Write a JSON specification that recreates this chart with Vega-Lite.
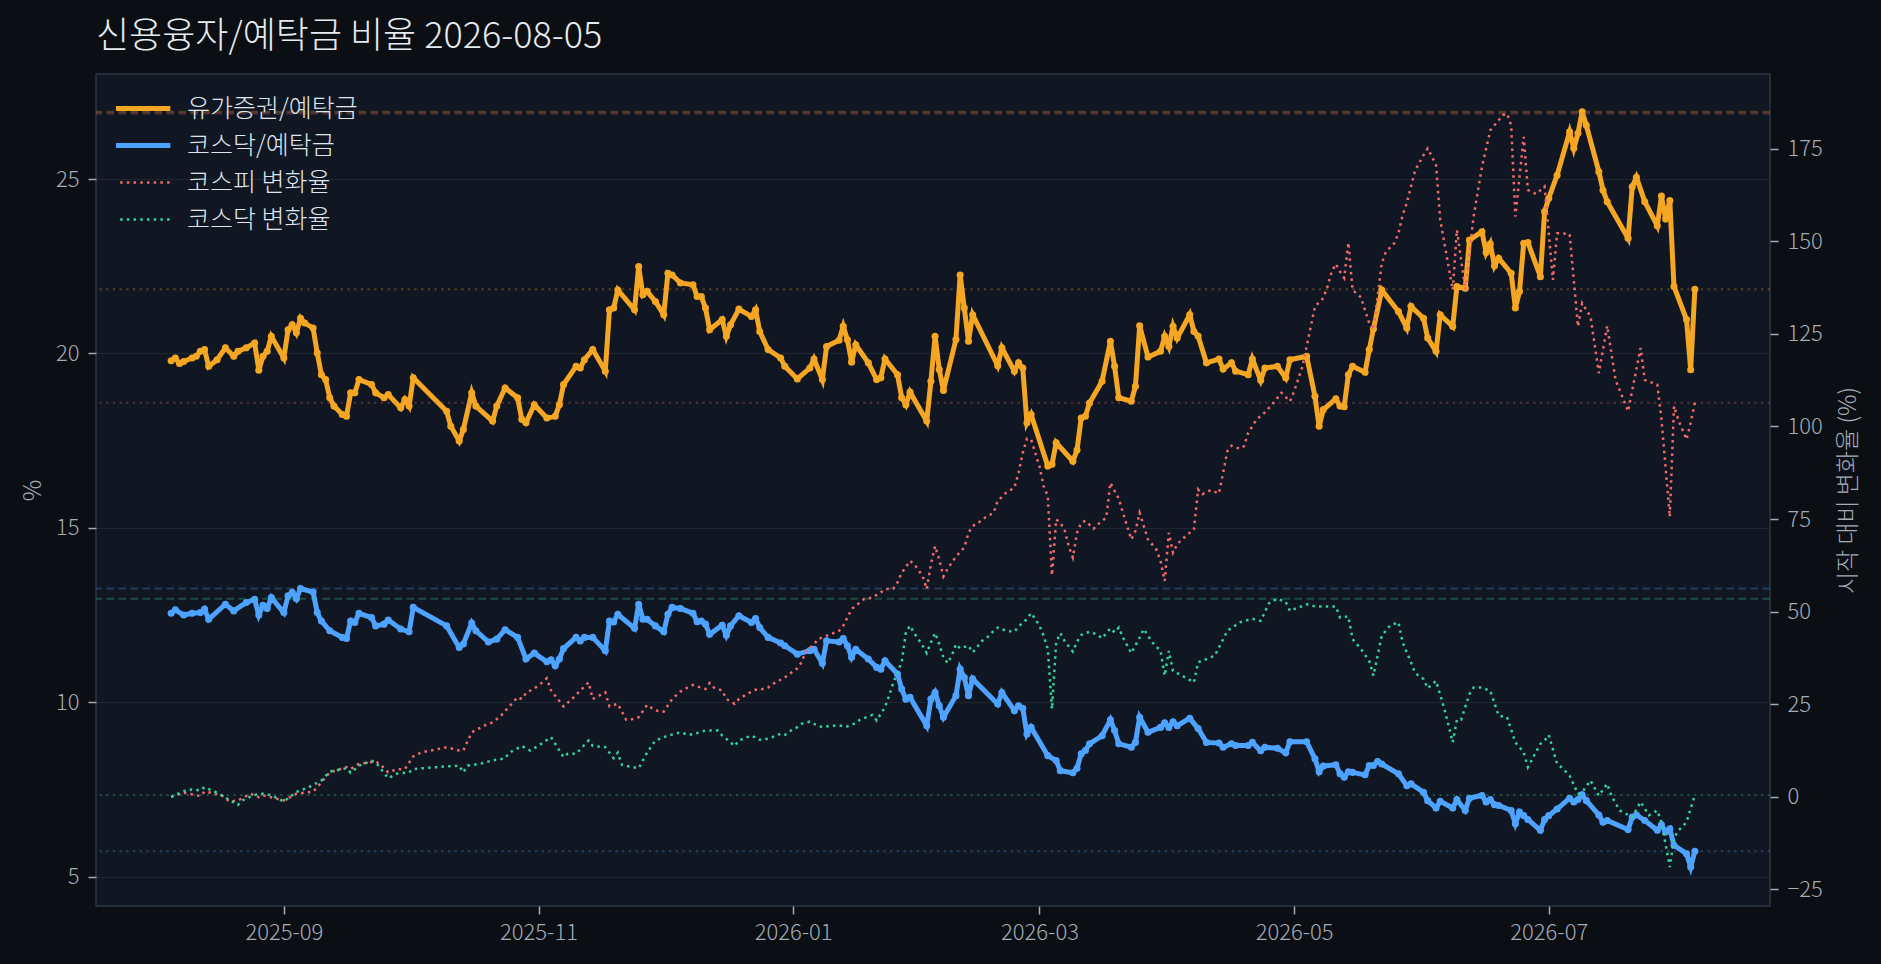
{
  "$schema": "https://vega.github.io/schema/vega-lite/v6.json",
  "description": "신용융자/예탁금 비율과 시작 대비 지수 변화율",
  "width": 1674,
  "height": 832,
  "autosize": {"type": "none"},
  "padding": {"left": 96, "top": 74, "right": 111, "bottom": 58},
  "background": "#0b0e13",
  "title": {
    "text": "신용융자/예탁금 비율 2026-08-05",
    "anchor": "start",
    "frame": "group",
    "fontSize": 36,
    "fontWeight": 300,
    "font": "Noto Sans CJK KR",
    "color": "#e6ebf0",
    "offset": 18
  },
  "config": {
    "font": "Noto Sans CJK KR",
    "view": {"fill": "#111722", "stroke": "#2b3646", "strokeWidth": 1.5},
    "axis": {
      "domain": false,
      "grid": false,
      "labelColor": "#a3acb8",
      "tickColor": "#a3acb8",
      "titleColor": "#a3acb8",
      "labelFontSize": 22,
      "labelFontWeight": 300,
      "titleFontSize": 24,
      "titleFontWeight": 300,
      "tickSize": 8,
      "tickWidth": 1.5,
      "labelPadding": 8
    },
    "legend": {"labelFontWeight": 300}
  },
  "data": {
    "values": [
      {"date": "2025-08-05", "series": "유가증권/예탁금", "value": 19.79},
      {"date": "2025-08-06", "series": "유가증권/예탁금", "value": 19.87},
      {"date": "2025-08-07", "series": "유가증권/예탁금", "value": 19.71},
      {"date": "2025-08-08", "series": "유가증권/예탁금", "value": 19.77},
      {"date": "2025-08-10", "series": "유가증권/예탁금", "value": 19.87},
      {"date": "2025-08-11", "series": "유가증권/예탁금", "value": 19.92},
      {"date": "2025-08-12", "series": "유가증권/예탁금", "value": 20.06},
      {"date": "2025-08-13", "series": "유가증권/예탁금", "value": 20.11},
      {"date": "2025-08-14", "series": "유가증권/예탁금", "value": 19.63},
      {"date": "2025-08-16", "series": "유가증권/예탁금", "value": 19.82},
      {"date": "2025-08-18", "series": "유가증권/예탁금", "value": 20.16},
      {"date": "2025-08-20", "series": "유가증권/예탁금", "value": 19.92},
      {"date": "2025-08-21", "series": "유가증권/예탁금", "value": 20.06},
      {"date": "2025-08-23", "series": "유가증권/예탁금", "value": 20.16},
      {"date": "2025-08-25", "series": "유가증권/예탁금", "value": 20.30},
      {"date": "2025-08-26", "series": "유가증권/예탁금", "value": 19.52},
      {"date": "2025-08-27", "series": "유가증권/예탁금", "value": 19.92},
      {"date": "2025-08-28", "series": "유가증권/예탁금", "value": 20.06},
      {"date": "2025-08-29", "series": "유가증권/예탁금", "value": 20.49},
      {"date": "2025-09-01", "series": "유가증권/예탁금", "value": 19.87},
      {"date": "2025-09-02", "series": "유가증권/예탁금", "value": 20.68},
      {"date": "2025-09-03", "series": "유가증권/예탁금", "value": 20.82},
      {"date": "2025-09-04", "series": "유가증권/예탁금", "value": 20.59},
      {"date": "2025-09-05", "series": "유가증권/예탁금", "value": 21.01},
      {"date": "2025-09-06", "series": "유가증권/예탁금", "value": 20.87},
      {"date": "2025-09-08", "series": "유가증권/예탁금", "value": 20.73},
      {"date": "2025-09-09", "series": "유가증권/예탁금", "value": 20.01},
      {"date": "2025-09-10", "series": "유가증권/예탁금", "value": 19.39},
      {"date": "2025-09-11", "series": "유가증권/예탁금", "value": 19.25},
      {"date": "2025-09-12", "series": "유가증권/예탁금", "value": 18.73},
      {"date": "2025-09-13", "series": "유가증권/예탁금", "value": 18.49},
      {"date": "2025-09-15", "series": "유가증권/예탁금", "value": 18.25},
      {"date": "2025-09-16", "series": "유가증권/예탁금", "value": 18.20},
      {"date": "2025-09-17", "series": "유가증권/예탁금", "value": 18.87},
      {"date": "2025-09-18", "series": "유가증권/예탁금", "value": 18.87},
      {"date": "2025-09-19", "series": "유가증권/예탁금", "value": 19.25},
      {"date": "2025-09-22", "series": "유가증권/예탁금", "value": 19.11},
      {"date": "2025-09-23", "series": "유가증권/예탁금", "value": 18.87},
      {"date": "2025-09-25", "series": "유가증권/예탁금", "value": 18.73},
      {"date": "2025-09-26", "series": "유가증권/예탁금", "value": 18.82},
      {"date": "2025-09-29", "series": "유가증권/예탁금", "value": 18.44},
      {"date": "2025-09-30", "series": "유가증권/예탁금", "value": 18.68},
      {"date": "2025-10-01", "series": "유가증권/예탁금", "value": 18.49},
      {"date": "2025-10-02", "series": "유가증권/예탁금", "value": 19.30},
      {"date": "2025-10-10", "series": "유가증권/예탁금", "value": 18.34},
      {"date": "2025-10-11", "series": "유가증권/예탁금", "value": 17.91},
      {"date": "2025-10-13", "series": "유가증권/예탁금", "value": 17.49},
      {"date": "2025-10-14", "series": "유가증권/예탁금", "value": 17.82},
      {"date": "2025-10-16", "series": "유가증권/예탁금", "value": 18.87},
      {"date": "2025-10-17", "series": "유가증권/예탁금", "value": 18.49},
      {"date": "2025-10-21", "series": "유가증권/예탁금", "value": 18.06},
      {"date": "2025-10-22", "series": "유가증권/예탁금", "value": 18.49},
      {"date": "2025-10-24", "series": "유가증권/예탁금", "value": 19.01},
      {"date": "2025-10-27", "series": "유가증권/예탁금", "value": 18.73},
      {"date": "2025-10-28", "series": "유가증권/예탁금", "value": 18.11},
      {"date": "2025-10-29", "series": "유가증권/예탁금", "value": 18.01},
      {"date": "2025-10-31", "series": "유가증권/예탁금", "value": 18.53},
      {"date": "2025-11-03", "series": "유가증권/예탁금", "value": 18.15},
      {"date": "2025-11-05", "series": "유가증권/예탁금", "value": 18.20},
      {"date": "2025-11-06", "series": "유가증권/예탁금", "value": 18.53},
      {"date": "2025-11-07", "series": "유가증권/예탁금", "value": 19.11},
      {"date": "2025-11-10", "series": "유가증권/예탁금", "value": 19.63},
      {"date": "2025-11-11", "series": "유가증권/예탁금", "value": 19.58},
      {"date": "2025-11-12", "series": "유가증권/예탁금", "value": 19.82},
      {"date": "2025-11-14", "series": "유가증권/예탁금", "value": 20.11},
      {"date": "2025-11-17", "series": "유가증권/예탁금", "value": 19.49},
      {"date": "2025-11-18", "series": "유가증권/예탁금", "value": 21.25},
      {"date": "2025-11-19", "series": "유가증권/예탁금", "value": 21.30},
      {"date": "2025-11-20", "series": "유가증권/예탁금", "value": 21.82},
      {"date": "2025-11-24", "series": "유가증권/예탁금", "value": 21.25},
      {"date": "2025-11-25", "series": "유가증권/예탁금", "value": 22.49},
      {"date": "2025-11-26", "series": "유가증권/예탁금", "value": 21.68},
      {"date": "2025-11-27", "series": "유가증권/예탁금", "value": 21.78},
      {"date": "2025-11-29", "series": "유가증권/예탁금", "value": 21.49},
      {"date": "2025-12-01", "series": "유가증권/예탁금", "value": 21.11},
      {"date": "2025-12-02", "series": "유가증권/예탁금", "value": 22.30},
      {"date": "2025-12-03", "series": "유가증권/예탁금", "value": 22.25},
      {"date": "2025-12-05", "series": "유가증권/예탁금", "value": 22.02},
      {"date": "2025-12-08", "series": "유가증권/예탁금", "value": 21.97},
      {"date": "2025-12-09", "series": "유가증권/예탁금", "value": 21.63},
      {"date": "2025-12-10", "series": "유가증권/예탁금", "value": 21.63},
      {"date": "2025-12-11", "series": "유가증권/예탁금", "value": 21.30},
      {"date": "2025-12-12", "series": "유가증권/예탁금", "value": 20.68},
      {"date": "2025-12-15", "series": "유가증권/예탁금", "value": 20.97},
      {"date": "2025-12-16", "series": "유가증권/예탁금", "value": 20.49},
      {"date": "2025-12-17", "series": "유가증권/예탁금", "value": 20.82},
      {"date": "2025-12-19", "series": "유가증권/예탁금", "value": 21.27},
      {"date": "2025-12-22", "series": "유가증권/예탁금", "value": 21.06},
      {"date": "2025-12-23", "series": "유가증권/예탁금", "value": 21.25},
      {"date": "2025-12-24", "series": "유가증권/예탁금", "value": 20.63},
      {"date": "2025-12-26", "series": "유가증권/예탁금", "value": 20.11},
      {"date": "2025-12-29", "series": "유가증권/예탁금", "value": 19.87},
      {"date": "2025-12-30", "series": "유가증권/예탁금", "value": 19.63},
      {"date": "2026-01-02", "series": "유가증권/예탁금", "value": 19.27},
      {"date": "2026-01-05", "series": "유가증권/예탁금", "value": 19.58},
      {"date": "2026-01-06", "series": "유가증권/예탁금", "value": 19.84},
      {"date": "2026-01-08", "series": "유가증권/예탁금", "value": 19.25},
      {"date": "2026-01-09", "series": "유가증권/예탁금", "value": 20.20},
      {"date": "2026-01-12", "series": "유가증권/예탁금", "value": 20.38},
      {"date": "2026-01-13", "series": "유가증권/예탁금", "value": 20.78},
      {"date": "2026-01-14", "series": "유가증권/예탁금", "value": 20.39},
      {"date": "2026-01-15", "series": "유가증권/예탁금", "value": 19.75},
      {"date": "2026-01-16", "series": "유가증권/예탁금", "value": 20.25},
      {"date": "2026-01-19", "series": "유가증권/예탁금", "value": 19.73},
      {"date": "2026-01-21", "series": "유가증권/예탁금", "value": 19.25},
      {"date": "2026-01-22", "series": "유가증권/예탁금", "value": 19.30},
      {"date": "2026-01-23", "series": "유가증권/예탁금", "value": 19.84},
      {"date": "2026-01-26", "series": "유가증권/예탁금", "value": 19.39},
      {"date": "2026-01-27", "series": "유가증권/예탁금", "value": 18.73},
      {"date": "2026-01-28", "series": "유가증권/예탁금", "value": 18.53},
      {"date": "2026-01-29", "series": "유가증권/예탁금", "value": 18.89},
      {"date": "2026-02-02", "series": "유가증권/예탁금", "value": 18.06},
      {"date": "2026-02-03", "series": "유가증권/예탁금", "value": 19.20},
      {"date": "2026-02-04", "series": "유가증권/예탁금", "value": 20.49},
      {"date": "2026-02-05", "series": "유가증권/예탁금", "value": 19.54},
      {"date": "2026-02-06", "series": "유가증권/예탁금", "value": 18.94},
      {"date": "2026-02-09", "series": "유가증권/예탁금", "value": 20.40},
      {"date": "2026-02-10", "series": "유가증권/예탁금", "value": 22.25},
      {"date": "2026-02-11", "series": "유가증권/예탁금", "value": 21.30},
      {"date": "2026-02-12", "series": "유가증권/예탁금", "value": 20.35},
      {"date": "2026-02-13", "series": "유가증권/예탁금", "value": 21.11},
      {"date": "2026-02-19", "series": "유가증권/예탁금", "value": 19.65},
      {"date": "2026-02-20", "series": "유가증권/예탁금", "value": 20.16},
      {"date": "2026-02-23", "series": "유가증권/예탁금", "value": 19.49},
      {"date": "2026-02-24", "series": "유가증권/예탁금", "value": 19.73},
      {"date": "2026-02-25", "series": "유가증권/예탁금", "value": 19.58},
      {"date": "2026-02-26", "series": "유가증권/예탁금", "value": 18.01},
      {"date": "2026-02-27", "series": "유가증권/예탁금", "value": 18.25},
      {"date": "2026-03-03", "series": "유가증권/예탁금", "value": 16.77},
      {"date": "2026-03-04", "series": "유가증권/예탁금", "value": 16.82},
      {"date": "2026-03-05", "series": "유가증권/예탁금", "value": 17.44},
      {"date": "2026-03-09", "series": "유가증권/예탁금", "value": 16.91},
      {"date": "2026-03-10", "series": "유가증권/예탁금", "value": 17.23},
      {"date": "2026-03-11", "series": "유가증권/예탁금", "value": 18.15},
      {"date": "2026-03-12", "series": "유가증권/예탁금", "value": 18.20},
      {"date": "2026-03-13", "series": "유가증권/예탁금", "value": 18.58},
      {"date": "2026-03-16", "series": "유가증권/예탁금", "value": 19.20},
      {"date": "2026-03-18", "series": "유가증권/예탁금", "value": 20.35},
      {"date": "2026-03-19", "series": "유가증권/예탁금", "value": 19.63},
      {"date": "2026-03-20", "series": "유가증권/예탁금", "value": 18.73},
      {"date": "2026-03-23", "series": "유가증권/예탁금", "value": 18.63},
      {"date": "2026-03-24", "series": "유가증권/예탁금", "value": 19.06},
      {"date": "2026-03-25", "series": "유가증권/예탁금", "value": 20.79},
      {"date": "2026-03-27", "series": "유가증권/예탁금", "value": 19.90},
      {"date": "2026-03-30", "series": "유가증권/예탁금", "value": 20.06},
      {"date": "2026-03-31", "series": "유가증권/예탁금", "value": 20.49},
      {"date": "2026-04-01", "series": "유가증권/예탁금", "value": 20.20},
      {"date": "2026-04-02", "series": "유가증권/예탁금", "value": 20.78},
      {"date": "2026-04-03", "series": "유가증권/예탁금", "value": 20.44},
      {"date": "2026-04-06", "series": "유가증권/예탁금", "value": 21.11},
      {"date": "2026-04-07", "series": "유가증권/예탁금", "value": 20.63},
      {"date": "2026-04-08", "series": "유가증권/예탁금", "value": 20.50},
      {"date": "2026-04-10", "series": "유가증권/예탁금", "value": 19.73},
      {"date": "2026-04-13", "series": "유가증권/예탁금", "value": 19.84},
      {"date": "2026-04-14", "series": "유가증권/예탁금", "value": 19.55},
      {"date": "2026-04-16", "series": "유가증권/예탁금", "value": 19.73},
      {"date": "2026-04-17", "series": "유가증권/예탁금", "value": 19.49},
      {"date": "2026-04-20", "series": "유가증권/예탁금", "value": 19.39},
      {"date": "2026-04-21", "series": "유가증권/예탁금", "value": 19.84},
      {"date": "2026-04-23", "series": "유가증권/예탁금", "value": 19.23},
      {"date": "2026-04-24", "series": "유가증권/예탁금", "value": 19.58},
      {"date": "2026-04-27", "series": "유가증권/예탁금", "value": 19.63},
      {"date": "2026-04-29", "series": "유가증권/예탁금", "value": 19.30},
      {"date": "2026-04-30", "series": "유가증권/예탁금", "value": 19.82},
      {"date": "2026-05-04", "series": "유가증권/예탁금", "value": 19.92},
      {"date": "2026-05-06", "series": "유가증권/예탁금", "value": 18.77},
      {"date": "2026-05-07", "series": "유가증권/예탁금", "value": 17.91},
      {"date": "2026-05-08", "series": "유가증권/예탁금", "value": 18.39},
      {"date": "2026-05-11", "series": "유가증권/예탁금", "value": 18.70},
      {"date": "2026-05-12", "series": "유가증권/예탁금", "value": 18.49},
      {"date": "2026-05-13", "series": "유가증권/예탁금", "value": 18.47},
      {"date": "2026-05-14", "series": "유가증권/예탁금", "value": 19.39},
      {"date": "2026-05-15", "series": "유가증권/예탁금", "value": 19.63},
      {"date": "2026-05-18", "series": "유가증권/예탁금", "value": 19.46},
      {"date": "2026-05-19", "series": "유가증권/예탁금", "value": 20.11},
      {"date": "2026-05-20", "series": "유가증권/예탁금", "value": 20.70},
      {"date": "2026-05-22", "series": "유가증권/예탁금", "value": 21.82},
      {"date": "2026-05-26", "series": "유가증권/예탁금", "value": 21.20},
      {"date": "2026-05-28", "series": "유가증권/예탁금", "value": 20.73},
      {"date": "2026-05-29", "series": "유가증권/예탁금", "value": 21.35},
      {"date": "2026-06-01", "series": "유가증권/예탁금", "value": 21.01},
      {"date": "2026-06-02", "series": "유가증권/예탁금", "value": 20.44},
      {"date": "2026-06-04", "series": "유가증권/예탁금", "value": 20.06},
      {"date": "2026-06-05", "series": "유가증권/예탁금", "value": 21.11},
      {"date": "2026-06-08", "series": "유가증권/예탁금", "value": 20.77},
      {"date": "2026-06-09", "series": "유가증권/예탁금", "value": 21.92},
      {"date": "2026-06-11", "series": "유가증권/예탁금", "value": 21.87},
      {"date": "2026-06-12", "series": "유가증권/예탁금", "value": 23.25},
      {"date": "2026-06-15", "series": "유가증권/예탁금", "value": 23.49},
      {"date": "2026-06-16", "series": "유가증권/예탁금", "value": 22.89},
      {"date": "2026-06-17", "series": "유가증권/예탁금", "value": 23.14},
      {"date": "2026-06-18", "series": "유가증권/예탁금", "value": 22.51},
      {"date": "2026-06-19", "series": "유가증권/예탁금", "value": 22.73},
      {"date": "2026-06-22", "series": "유가증권/예탁금", "value": 22.30},
      {"date": "2026-06-23", "series": "유가증권/예탁금", "value": 21.30},
      {"date": "2026-06-24", "series": "유가증권/예탁금", "value": 21.78},
      {"date": "2026-06-25", "series": "유가증권/예탁금", "value": 23.16},
      {"date": "2026-06-26", "series": "유가증권/예탁금", "value": 23.18},
      {"date": "2026-06-29", "series": "유가증권/예탁금", "value": 22.20},
      {"date": "2026-06-30", "series": "유가증권/예탁금", "value": 24.06},
      {"date": "2026-07-01", "series": "유가증권/예탁금", "value": 24.45},
      {"date": "2026-07-03", "series": "유가증권/예탁금", "value": 25.11},
      {"date": "2026-07-06", "series": "유가증권/예탁금", "value": 26.35},
      {"date": "2026-07-07", "series": "유가증권/예탁금", "value": 25.88},
      {"date": "2026-07-08", "series": "유가증권/예탁금", "value": 26.31},
      {"date": "2026-07-09", "series": "유가증권/예탁금", "value": 26.93},
      {"date": "2026-07-10", "series": "유가증권/예탁금", "value": 26.54},
      {"date": "2026-07-13", "series": "유가증권/예탁금", "value": 25.21},
      {"date": "2026-07-14", "series": "유가증권/예탁금", "value": 24.68},
      {"date": "2026-07-15", "series": "유가증권/예탁금", "value": 24.35},
      {"date": "2026-07-20", "series": "유가증권/예탁금", "value": 23.30},
      {"date": "2026-07-21", "series": "유가증권/예탁금", "value": 24.78},
      {"date": "2026-07-22", "series": "유가증권/예탁금", "value": 25.05},
      {"date": "2026-07-24", "series": "유가증권/예탁금", "value": 24.35},
      {"date": "2026-07-27", "series": "유가증권/예탁금", "value": 23.66},
      {"date": "2026-07-28", "series": "유가증권/예탁금", "value": 24.51},
      {"date": "2026-07-29", "series": "유가증권/예탁금", "value": 23.85},
      {"date": "2026-07-30", "series": "유가증권/예탁금", "value": 24.38},
      {"date": "2026-07-31", "series": "유가증권/예탁금", "value": 21.92},
      {"date": "2026-08-03", "series": "유가증권/예탁금", "value": 20.97},
      {"date": "2026-08-04", "series": "유가증권/예탁금", "value": 19.53},
      {"date": "2026-08-05", "series": "유가증권/예탁금", "value": 21.84},

      {"date": "2025-08-05", "series": "코스닥/예탁금", "value": 12.55},
      {"date": "2025-08-06", "series": "코스닥/예탁금", "value": 12.65},
      {"date": "2025-08-08", "series": "코스닥/예탁금", "value": 12.50},
      {"date": "2025-08-10", "series": "코스닥/예탁금", "value": 12.55},
      {"date": "2025-08-12", "series": "코스닥/예탁금", "value": 12.57},
      {"date": "2025-08-13", "series": "코스닥/예탁금", "value": 12.67},
      {"date": "2025-08-14", "series": "코스닥/예탁금", "value": 12.38},
      {"date": "2025-08-18", "series": "코스닥/예탁금", "value": 12.81},
      {"date": "2025-08-20", "series": "코스닥/예탁금", "value": 12.62},
      {"date": "2025-08-23", "series": "코스닥/예탁금", "value": 12.86},
      {"date": "2025-08-25", "series": "코스닥/예탁금", "value": 12.95},
      {"date": "2025-08-26", "series": "코스닥/예탁금", "value": 12.50},
      {"date": "2025-08-27", "series": "코스닥/예탁금", "value": 12.78},
      {"date": "2025-08-28", "series": "코스닥/예탁금", "value": 12.69},
      {"date": "2025-08-29", "series": "코스닥/예탁금", "value": 13.00},
      {"date": "2025-09-01", "series": "코스닥/예탁금", "value": 12.57},
      {"date": "2025-09-02", "series": "코스닥/예탁금", "value": 13.05},
      {"date": "2025-09-03", "series": "코스닥/예탁금", "value": 13.15},
      {"date": "2025-09-04", "series": "코스닥/예탁금", "value": 12.97},
      {"date": "2025-09-05", "series": "코스닥/예탁금", "value": 13.26},
      {"date": "2025-09-08", "series": "코스닥/예탁금", "value": 13.16},
      {"date": "2025-09-09", "series": "코스닥/예탁금", "value": 12.57},
      {"date": "2025-09-10", "series": "코스닥/예탁금", "value": 12.33},
      {"date": "2025-09-12", "series": "코스닥/예탁금", "value": 12.05},
      {"date": "2025-09-15", "series": "코스닥/예탁금", "value": 11.86},
      {"date": "2025-09-16", "series": "코스닥/예탁금", "value": 11.83},
      {"date": "2025-09-17", "series": "코스닥/예탁금", "value": 12.33},
      {"date": "2025-09-18", "series": "코스닥/예탁금", "value": 12.29},
      {"date": "2025-09-19", "series": "코스닥/예탁금", "value": 12.55},
      {"date": "2025-09-22", "series": "코스닥/예탁금", "value": 12.43},
      {"date": "2025-09-23", "series": "코스닥/예탁금", "value": 12.19},
      {"date": "2025-09-25", "series": "코스닥/예탁금", "value": 12.24},
      {"date": "2025-09-26", "series": "코스닥/예탁금", "value": 12.36},
      {"date": "2025-09-29", "series": "코스닥/예탁금", "value": 12.10},
      {"date": "2025-10-01", "series": "코스닥/예탁금", "value": 12.02},
      {"date": "2025-10-02", "series": "코스닥/예탁금", "value": 12.72},
      {"date": "2025-10-10", "series": "코스닥/예탁금", "value": 12.19},
      {"date": "2025-10-13", "series": "코스닥/예탁금", "value": 11.57},
      {"date": "2025-10-14", "series": "코스닥/예탁금", "value": 11.67},
      {"date": "2025-10-16", "series": "코스닥/예탁금", "value": 12.27},
      {"date": "2025-10-17", "series": "코스닥/예탁금", "value": 12.05},
      {"date": "2025-10-20", "series": "코스닥/예탁금", "value": 11.73},
      {"date": "2025-10-22", "series": "코스닥/예탁금", "value": 11.81},
      {"date": "2025-10-24", "series": "코스닥/예탁금", "value": 12.08},
      {"date": "2025-10-27", "series": "코스닥/예탁금", "value": 11.86},
      {"date": "2025-10-29", "series": "코스닥/예탁금", "value": 11.24},
      {"date": "2025-10-31", "series": "코스닥/예탁금", "value": 11.41},
      {"date": "2025-11-03", "series": "코스닥/예탁금", "value": 11.16},
      {"date": "2025-11-04", "series": "코스닥/예탁금", "value": 11.22},
      {"date": "2025-11-05", "series": "코스닥/예탁금", "value": 11.05},
      {"date": "2025-11-06", "series": "코스닥/예탁금", "value": 11.24},
      {"date": "2025-11-07", "series": "코스닥/예탁금", "value": 11.54},
      {"date": "2025-11-10", "series": "코스닥/예탁금", "value": 11.86},
      {"date": "2025-11-11", "series": "코스닥/예탁금", "value": 11.76},
      {"date": "2025-11-12", "series": "코스닥/예탁금", "value": 11.86},
      {"date": "2025-11-14", "series": "코스닥/예탁금", "value": 11.86},
      {"date": "2025-11-17", "series": "코스닥/예탁금", "value": 11.48},
      {"date": "2025-11-18", "series": "코스닥/예탁금", "value": 12.33},
      {"date": "2025-11-19", "series": "코스닥/예탁금", "value": 12.30},
      {"date": "2025-11-20", "series": "코스닥/예탁금", "value": 12.52},
      {"date": "2025-11-24", "series": "코스닥/예탁금", "value": 12.12},
      {"date": "2025-11-25", "series": "코스닥/예탁금", "value": 12.81},
      {"date": "2025-11-26", "series": "코스닥/예탁금", "value": 12.38},
      {"date": "2025-11-27", "series": "코스닥/예탁금", "value": 12.38},
      {"date": "2025-11-29", "series": "코스닥/예탁금", "value": 12.19},
      {"date": "2025-12-01", "series": "코스닥/예탁금", "value": 12.02},
      {"date": "2025-12-02", "series": "코스닥/예탁금", "value": 12.52},
      {"date": "2025-12-03", "series": "코스닥/예탁금", "value": 12.72},
      {"date": "2025-12-05", "series": "코스닥/예탁금", "value": 12.69},
      {"date": "2025-12-08", "series": "코스닥/예탁금", "value": 12.55},
      {"date": "2025-12-09", "series": "코스닥/예탁금", "value": 12.31},
      {"date": "2025-12-10", "series": "코스닥/예탁금", "value": 12.33},
      {"date": "2025-12-11", "series": "코스닥/예탁금", "value": 12.24},
      {"date": "2025-12-12", "series": "코스닥/예탁금", "value": 11.95},
      {"date": "2025-12-15", "series": "코스닥/예탁금", "value": 12.21},
      {"date": "2025-12-16", "series": "코스닥/예탁금", "value": 11.92},
      {"date": "2025-12-17", "series": "코스닥/예탁금", "value": 12.19},
      {"date": "2025-12-19", "series": "코스닥/예탁금", "value": 12.48},
      {"date": "2025-12-22", "series": "코스닥/예탁금", "value": 12.29},
      {"date": "2025-12-23", "series": "코스닥/예탁금", "value": 12.40},
      {"date": "2025-12-24", "series": "코스닥/예탁금", "value": 12.14},
      {"date": "2025-12-26", "series": "코스닥/예탁금", "value": 11.86},
      {"date": "2025-12-29", "series": "코스닥/예탁금", "value": 11.70},
      {"date": "2025-12-30", "series": "코스닥/예탁금", "value": 11.62},
      {"date": "2026-01-02", "series": "코스닥/예탁금", "value": 11.38},
      {"date": "2026-01-05", "series": "코스닥/예탁금", "value": 11.48},
      {"date": "2026-01-06", "series": "코스닥/예탁금", "value": 11.52},
      {"date": "2026-01-08", "series": "코스닥/예탁금", "value": 11.12},
      {"date": "2026-01-09", "series": "코스닥/예탁금", "value": 11.76},
      {"date": "2026-01-12", "series": "코스닥/예탁금", "value": 11.73},
      {"date": "2026-01-13", "series": "코스닥/예탁금", "value": 11.83},
      {"date": "2026-01-14", "series": "코스닥/예탁금", "value": 11.62},
      {"date": "2026-01-15", "series": "코스닥/예탁금", "value": 11.29},
      {"date": "2026-01-16", "series": "코스닥/예탁금", "value": 11.52},
      {"date": "2026-01-19", "series": "코스닥/예탁금", "value": 11.24},
      {"date": "2026-01-21", "series": "코스닥/예탁금", "value": 11.00},
      {"date": "2026-01-22", "series": "코스닥/예탁금", "value": 10.95},
      {"date": "2026-01-23", "series": "코스닥/예탁금", "value": 11.19},
      {"date": "2026-01-26", "series": "코스닥/예탁금", "value": 10.81},
      {"date": "2026-01-27", "series": "코스닥/예탁금", "value": 10.38},
      {"date": "2026-01-28", "series": "코스닥/예탁금", "value": 10.09},
      {"date": "2026-01-29", "series": "코스닥/예탁금", "value": 10.14},
      {"date": "2026-02-02", "series": "코스닥/예탁금", "value": 9.33},
      {"date": "2026-02-03", "series": "코스닥/예탁금", "value": 10.09},
      {"date": "2026-02-04", "series": "코스닥/예탁금", "value": 10.28},
      {"date": "2026-02-05", "series": "코스닥/예탁금", "value": 9.90},
      {"date": "2026-02-06", "series": "코스닥/예탁금", "value": 9.57},
      {"date": "2026-02-09", "series": "코스닥/예탁금", "value": 10.19},
      {"date": "2026-02-10", "series": "코스닥/예탁금", "value": 10.95},
      {"date": "2026-02-11", "series": "코스닥/예탁금", "value": 10.71},
      {"date": "2026-02-12", "series": "코스닥/예탁금", "value": 10.19},
      {"date": "2026-02-13", "series": "코스닥/예탁금", "value": 10.67},
      {"date": "2026-02-19", "series": "코스닥/예탁금", "value": 9.95},
      {"date": "2026-02-20", "series": "코스닥/예탁금", "value": 10.28},
      {"date": "2026-02-23", "series": "코스닥/예탁금", "value": 9.76},
      {"date": "2026-02-24", "series": "코스닥/예탁금", "value": 9.90},
      {"date": "2026-02-25", "series": "코스닥/예탁금", "value": 9.83},
      {"date": "2026-02-26", "series": "코스닥/예탁금", "value": 9.09},
      {"date": "2026-02-27", "series": "코스닥/예탁금", "value": 9.28},
      {"date": "2026-03-03", "series": "코스닥/예탁금", "value": 8.47},
      {"date": "2026-03-05", "series": "코스닥/예탁금", "value": 8.33},
      {"date": "2026-03-06", "series": "코스닥/예탁금", "value": 8.04},
      {"date": "2026-03-09", "series": "코스닥/예탁금", "value": 7.98},
      {"date": "2026-03-10", "series": "코스닥/예탁금", "value": 8.11},
      {"date": "2026-03-11", "series": "코스닥/예탁금", "value": 8.52},
      {"date": "2026-03-12", "series": "코스닥/예탁금", "value": 8.62},
      {"date": "2026-03-13", "series": "코스닥/예탁금", "value": 8.81},
      {"date": "2026-03-16", "series": "코스닥/예탁금", "value": 9.04},
      {"date": "2026-03-18", "series": "코스닥/예탁금", "value": 9.50},
      {"date": "2026-03-19", "series": "코스닥/예탁금", "value": 9.19},
      {"date": "2026-03-20", "series": "코스닥/예탁금", "value": 8.81},
      {"date": "2026-03-23", "series": "코스닥/예탁금", "value": 8.71},
      {"date": "2026-03-24", "series": "코스닥/예탁금", "value": 8.85},
      {"date": "2026-03-25", "series": "코스닥/예탁금", "value": 9.57},
      {"date": "2026-03-27", "series": "코스닥/예탁금", "value": 9.14},
      {"date": "2026-03-30", "series": "코스닥/예탁금", "value": 9.28},
      {"date": "2026-03-31", "series": "코스닥/예탁금", "value": 9.41},
      {"date": "2026-04-01", "series": "코스닥/예탁금", "value": 9.28},
      {"date": "2026-04-02", "series": "코스닥/예탁금", "value": 9.44},
      {"date": "2026-04-03", "series": "코스닥/예탁금", "value": 9.33},
      {"date": "2026-04-06", "series": "코스닥/예탁금", "value": 9.54},
      {"date": "2026-04-08", "series": "코스닥/예탁금", "value": 9.25},
      {"date": "2026-04-10", "series": "코스닥/예탁금", "value": 8.85},
      {"date": "2026-04-13", "series": "코스닥/예탁금", "value": 8.83},
      {"date": "2026-04-14", "series": "코스닥/예탁금", "value": 8.71},
      {"date": "2026-04-16", "series": "코스닥/예탁금", "value": 8.81},
      {"date": "2026-04-17", "series": "코스닥/예탁금", "value": 8.76},
      {"date": "2026-04-20", "series": "코스닥/예탁금", "value": 8.76},
      {"date": "2026-04-21", "series": "코스닥/예탁금", "value": 8.85},
      {"date": "2026-04-23", "series": "코스닥/예탁금", "value": 8.61},
      {"date": "2026-04-24", "series": "코스닥/예탁금", "value": 8.71},
      {"date": "2026-04-27", "series": "코스닥/예탁금", "value": 8.68},
      {"date": "2026-04-29", "series": "코스닥/예탁금", "value": 8.55},
      {"date": "2026-04-30", "series": "코스닥/예탁금", "value": 8.87},
      {"date": "2026-05-04", "series": "코스닥/예탁금", "value": 8.87},
      {"date": "2026-05-06", "series": "코스닥/예탁금", "value": 8.38},
      {"date": "2026-05-07", "series": "코스닥/예탁금", "value": 8.01},
      {"date": "2026-05-08", "series": "코스닥/예탁금", "value": 8.17},
      {"date": "2026-05-11", "series": "코스닥/예탁금", "value": 8.21},
      {"date": "2026-05-12", "series": "코스닥/예탁금", "value": 7.95},
      {"date": "2026-05-13", "series": "코스닥/예탁금", "value": 7.85},
      {"date": "2026-05-14", "series": "코스닥/예탁금", "value": 8.01},
      {"date": "2026-05-15", "series": "코스닥/예탁금", "value": 7.99},
      {"date": "2026-05-18", "series": "코스닥/예탁금", "value": 7.92},
      {"date": "2026-05-19", "series": "코스닥/예탁금", "value": 8.19},
      {"date": "2026-05-20", "series": "코스닥/예탁금", "value": 8.19},
      {"date": "2026-05-21", "series": "코스닥/예탁금", "value": 8.30},
      {"date": "2026-05-22", "series": "코스닥/예탁금", "value": 8.23},
      {"date": "2026-05-26", "series": "코스닥/예탁금", "value": 7.95},
      {"date": "2026-05-28", "series": "코스닥/예탁금", "value": 7.61},
      {"date": "2026-05-29", "series": "코스닥/예탁금", "value": 7.66},
      {"date": "2026-06-01", "series": "코스닥/예탁금", "value": 7.42},
      {"date": "2026-06-02", "series": "코스닥/예탁금", "value": 7.18},
      {"date": "2026-06-04", "series": "코스닥/예탁금", "value": 6.97},
      {"date": "2026-06-05", "series": "코스닥/예탁금", "value": 7.16},
      {"date": "2026-06-08", "series": "코스닥/예탁금", "value": 6.97},
      {"date": "2026-06-09", "series": "코스닥/예탁금", "value": 7.21},
      {"date": "2026-06-11", "series": "코스닥/예탁금", "value": 6.90},
      {"date": "2026-06-12", "series": "코스닥/예탁금", "value": 7.25},
      {"date": "2026-06-15", "series": "코스닥/예탁금", "value": 7.33},
      {"date": "2026-06-16", "series": "코스닥/예탁금", "value": 7.14},
      {"date": "2026-06-17", "series": "코스닥/예탁금", "value": 7.21},
      {"date": "2026-06-18", "series": "코스닥/예탁금", "value": 7.06},
      {"date": "2026-06-19", "series": "코스닥/예탁금", "value": 7.04},
      {"date": "2026-06-22", "series": "코스닥/예탁금", "value": 6.90},
      {"date": "2026-06-23", "series": "코스닥/예탁금", "value": 6.52},
      {"date": "2026-06-24", "series": "코스닥/예탁금", "value": 6.85},
      {"date": "2026-06-25", "series": "코스닥/예탁금", "value": 6.75},
      {"date": "2026-06-26", "series": "코스닥/예탁금", "value": 6.64},
      {"date": "2026-06-29", "series": "코스닥/예탁금", "value": 6.33},
      {"date": "2026-06-30", "series": "코스닥/예탁금", "value": 6.64},
      {"date": "2026-07-01", "series": "코스닥/예탁금", "value": 6.75},
      {"date": "2026-07-03", "series": "코스닥/예탁금", "value": 6.94},
      {"date": "2026-07-06", "series": "코스닥/예탁금", "value": 7.25},
      {"date": "2026-07-07", "series": "코스닥/예탁금", "value": 7.14},
      {"date": "2026-07-08", "series": "코스닥/예탁금", "value": 7.21},
      {"date": "2026-07-09", "series": "코스닥/예탁금", "value": 7.35},
      {"date": "2026-07-10", "series": "코스닥/예탁금", "value": 7.18},
      {"date": "2026-07-13", "series": "코스닥/예탁금", "value": 6.77},
      {"date": "2026-07-14", "series": "코스닥/예탁금", "value": 6.56},
      {"date": "2026-07-15", "series": "코스닥/예탁금", "value": 6.61},
      {"date": "2026-07-20", "series": "코스닥/예탁금", "value": 6.35},
      {"date": "2026-07-21", "series": "코스닥/예탁금", "value": 6.71},
      {"date": "2026-07-22", "series": "코스닥/예탁금", "value": 6.77},
      {"date": "2026-07-24", "series": "코스닥/예탁금", "value": 6.61},
      {"date": "2026-07-27", "series": "코스닥/예탁금", "value": 6.33},
      {"date": "2026-07-28", "series": "코스닥/예탁금", "value": 6.49},
      {"date": "2026-07-29", "series": "코스닥/예탁금", "value": 6.28},
      {"date": "2026-07-30", "series": "코스닥/예탁금", "value": 6.37},
      {"date": "2026-07-31", "series": "코스닥/예탁금", "value": 5.90},
      {"date": "2026-08-03", "series": "코스닥/예탁금", "value": 5.66},
      {"date": "2026-08-04", "series": "코스닥/예탁금", "value": 5.28},
      {"date": "2026-08-05", "series": "코스닥/예탁금", "value": 5.73},

      {"date": "2025-08-05", "series": "코스피 변화율", "value": 0},
      {"date": "2025-08-08", "series": "코스피 변화율", "value": 1.1},
      {"date": "2025-08-12", "series": "코스피 변화율", "value": 0.2},
      {"date": "2025-08-13", "series": "코스피 변화율", "value": 1.4},
      {"date": "2025-08-17", "series": "코스피 변화율", "value": 0.5},
      {"date": "2025-08-19", "series": "코스피 변화율", "value": -1.3},
      {"date": "2025-08-21", "series": "코스피 변화율", "value": -1.0},
      {"date": "2025-08-24", "series": "코스피 변화율", "value": 0.8},
      {"date": "2025-08-26", "series": "코스피 변화율", "value": -0.1},
      {"date": "2025-08-27", "series": "코스피 변화율", "value": 0.4},
      {"date": "2025-09-01", "series": "코스피 변화율", "value": -1.0},
      {"date": "2025-09-04", "series": "코스피 변화율", "value": 0.8},
      {"date": "2025-09-08", "series": "코스피 변화율", "value": 1.4},
      {"date": "2025-09-09", "series": "코스피 변화율", "value": 2.6},
      {"date": "2025-09-11", "series": "코스피 변화율", "value": 5.3},
      {"date": "2025-09-12", "series": "코스피 변화율", "value": 6.6},
      {"date": "2025-09-16", "series": "코스피 변화율", "value": 8.0},
      {"date": "2025-09-17", "series": "코스피 변화율", "value": 7.5},
      {"date": "2025-09-19", "series": "코스피 변화율", "value": 8.9},
      {"date": "2025-09-23", "series": "코스피 변화율", "value": 9.5},
      {"date": "2025-09-24", "series": "코스피 변화율", "value": 8.9},
      {"date": "2025-09-26", "series": "코스피 변화율", "value": 6.6},
      {"date": "2025-09-28", "series": "코스피 변화율", "value": 7.4},
      {"date": "2025-09-30", "series": "코스피 변화율", "value": 7.5},
      {"date": "2025-10-02", "series": "코스피 변화율", "value": 10.9},
      {"date": "2025-10-04", "series": "코스피 변화율", "value": 12.0},
      {"date": "2025-10-08", "series": "코스피 변화율", "value": 12.9},
      {"date": "2025-10-10", "series": "코스피 변화율", "value": 13.4},
      {"date": "2025-10-13", "series": "코스피 변화율", "value": 12.5},
      {"date": "2025-10-14", "series": "코스피 변화율", "value": 12.5},
      {"date": "2025-10-16", "series": "코스피 변화율", "value": 17.4},
      {"date": "2025-10-19", "series": "코스피 변화율", "value": 19.2},
      {"date": "2025-10-21", "series": "코스피 변화율", "value": 20.1},
      {"date": "2025-10-23", "series": "코스피 변화율", "value": 21.9},
      {"date": "2025-10-25", "series": "코스피 변화율", "value": 24.4},
      {"date": "2025-10-27", "series": "코스피 변화율", "value": 26.9},
      {"date": "2025-10-28", "series": "코스피 변화율", "value": 26.4},
      {"date": "2025-10-29", "series": "코스피 변화율", "value": 28.0},
      {"date": "2025-11-01", "series": "코스피 변화율", "value": 30.0},
      {"date": "2025-11-03", "series": "코스피 변화율", "value": 32.0},
      {"date": "2025-11-04", "series": "코스피 변화율", "value": 28.7},
      {"date": "2025-11-07", "series": "코스피 변화율", "value": 24.4},
      {"date": "2025-11-09", "series": "코스피 변화율", "value": 26.4},
      {"date": "2025-11-13", "series": "코스피 변화율", "value": 30.9},
      {"date": "2025-11-14", "series": "코스피 변화율", "value": 26.4},
      {"date": "2025-11-17", "series": "코스피 변화율", "value": 28.2},
      {"date": "2025-11-18", "series": "코스피 변화율", "value": 24.4},
      {"date": "2025-11-20", "series": "코스피 변화율", "value": 25.1},
      {"date": "2025-11-22", "series": "코스피 변화율", "value": 20.8},
      {"date": "2025-11-23", "series": "코스피 변화율", "value": 20.8},
      {"date": "2025-11-25", "series": "코스피 변화율", "value": 21.5},
      {"date": "2025-11-27", "series": "코스피 변화율", "value": 24.8},
      {"date": "2025-11-29", "series": "코스피 변화율", "value": 23.3},
      {"date": "2025-12-01", "series": "코스피 변화율", "value": 23.0},
      {"date": "2025-12-03", "series": "코스피 변화율", "value": 26.4},
      {"date": "2025-12-05", "series": "코스피 변화율", "value": 28.4},
      {"date": "2025-12-06", "series": "코스피 변화율", "value": 29.1},
      {"date": "2025-12-08", "series": "코스피 변화율", "value": 30.2},
      {"date": "2025-12-09", "series": "코스피 변화율", "value": 29.8},
      {"date": "2025-12-11", "series": "코스피 변화율", "value": 29.1},
      {"date": "2025-12-12", "series": "코스피 변화율", "value": 30.7},
      {"date": "2025-12-13", "series": "코스피 변화율", "value": 29.5},
      {"date": "2025-12-15", "series": "코스피 변화율", "value": 28.7},
      {"date": "2025-12-16", "series": "코스피 변화율", "value": 26.4},
      {"date": "2025-12-18", "series": "코스피 변화율", "value": 25.1},
      {"date": "2025-12-19", "series": "코스피 변화율", "value": 26.4},
      {"date": "2025-12-21", "series": "코스피 변화율", "value": 27.8},
      {"date": "2025-12-23", "series": "코스피 변화율", "value": 28.9},
      {"date": "2025-12-24", "series": "코스피 변화율", "value": 28.9},
      {"date": "2025-12-26", "series": "코스피 변화율", "value": 29.5},
      {"date": "2025-12-27", "series": "코스피 변화율", "value": 30.4},
      {"date": "2025-12-29", "series": "코스피 변화율", "value": 31.6},
      {"date": "2025-12-30", "series": "코스피 변화율", "value": 32.2},
      {"date": "2026-01-02", "series": "코스피 변화율", "value": 34.7},
      {"date": "2026-01-03", "series": "코스피 변화율", "value": 36.3},
      {"date": "2026-01-04", "series": "코스피 변화율", "value": 39.2},
      {"date": "2026-01-06", "series": "코스피 변화율", "value": 41.2},
      {"date": "2026-01-07", "series": "코스피 변화율", "value": 42.6},
      {"date": "2026-01-08", "series": "코스피 변화율", "value": 43.0},
      {"date": "2026-01-10", "series": "코스피 변화율", "value": 43.9},
      {"date": "2026-01-12", "series": "코스피 변화율", "value": 44.8},
      {"date": "2026-01-13", "series": "코스피 변화율", "value": 46.2},
      {"date": "2026-01-14", "series": "코스피 변화율", "value": 48.4},
      {"date": "2026-01-15", "series": "코스피 변화율", "value": 50.7},
      {"date": "2026-01-17", "series": "코스피 변화율", "value": 52.5},
      {"date": "2026-01-18", "series": "코스피 변화율", "value": 53.4},
      {"date": "2026-01-20", "series": "코스피 변화율", "value": 53.8},
      {"date": "2026-01-22", "series": "코스피 변화율", "value": 55.2},
      {"date": "2026-01-23", "series": "코스피 변화율", "value": 56.1},
      {"date": "2026-01-25", "series": "코스피 변화율", "value": 56.2},
      {"date": "2026-01-26", "series": "코스피 변화율", "value": 57.9},
      {"date": "2026-01-27", "series": "코스피 변화율", "value": 60.5},
      {"date": "2026-01-29", "series": "코스피 변화율", "value": 63.7},
      {"date": "2026-01-30", "series": "코스피 변화율", "value": 62.8},
      {"date": "2026-02-01", "series": "코스피 변화율", "value": 59.6},
      {"date": "2026-02-02", "series": "코스피 변화율", "value": 56.1},
      {"date": "2026-02-03", "series": "코스피 변화율", "value": 62.8},
      {"date": "2026-02-04", "series": "코스피 변화율", "value": 67.7},
      {"date": "2026-02-05", "series": "코스피 변화율", "value": 64.1},
      {"date": "2026-02-06", "series": "코스피 변화율", "value": 59.5},
      {"date": "2026-02-07", "series": "코스피 변화율", "value": 61.6},
      {"date": "2026-02-09", "series": "코스피 변화율", "value": 64.9},
      {"date": "2026-02-11", "series": "코스피 변화율", "value": 67.3},
      {"date": "2026-02-12", "series": "코스피 변화율", "value": 71.3},
      {"date": "2026-02-13", "series": "코스피 변화율", "value": 73.1},
      {"date": "2026-02-15", "series": "코스피 변화율", "value": 74.5},
      {"date": "2026-02-16", "series": "코스피 변화율", "value": 75.4},
      {"date": "2026-02-18", "series": "코스피 변화율", "value": 76.7},
      {"date": "2026-02-19", "series": "코스피 변화율", "value": 79.9},
      {"date": "2026-02-21", "series": "코스피 변화율", "value": 82.1},
      {"date": "2026-02-23", "series": "코스피 변화율", "value": 83.5},
      {"date": "2026-02-24", "series": "코스피 변화율", "value": 87.5},
      {"date": "2026-02-25", "series": "코스피 변화율", "value": 92.9},
      {"date": "2026-02-26", "series": "코스피 변화율", "value": 96.7},
      {"date": "2026-02-27", "series": "코스피 변화율", "value": 96.5},
      {"date": "2026-02-28", "series": "코스피 변화율", "value": 92.9},
      {"date": "2026-03-01", "series": "코스피 변화율", "value": 89.3},
      {"date": "2026-03-02", "series": "코스피 변화율", "value": 83.9},
      {"date": "2026-03-03", "series": "코스피 변화율", "value": 81.2},
      {"date": "2026-03-04", "series": "코스피 변화율", "value": 59.8},
      {"date": "2026-03-05", "series": "코스피 변화율", "value": 74.9},
      {"date": "2026-03-06", "series": "코스피 변화율", "value": 74.0},
      {"date": "2026-03-07", "series": "코스피 변화율", "value": 72.2},
      {"date": "2026-03-08", "series": "코스피 변화율", "value": 67.7},
      {"date": "2026-03-09", "series": "코스피 변화율", "value": 64.6},
      {"date": "2026-03-10", "series": "코스피 변화율", "value": 71.3},
      {"date": "2026-03-11", "series": "코스피 변화율", "value": 74.0},
      {"date": "2026-03-12", "series": "코스피 변화율", "value": 74.5},
      {"date": "2026-03-14", "series": "코스피 변화율", "value": 72.4},
      {"date": "2026-03-15", "series": "코스피 변화율", "value": 73.6},
      {"date": "2026-03-17", "series": "코스피 변화율", "value": 75.4},
      {"date": "2026-03-18", "series": "코스피 변화율", "value": 84.8},
      {"date": "2026-03-19", "series": "코스피 변화율", "value": 82.6},
      {"date": "2026-03-20", "series": "코스피 변화율", "value": 80.5},
      {"date": "2026-03-21", "series": "코스피 변화율", "value": 76.7},
      {"date": "2026-03-22", "series": "코스피 변화율", "value": 73.1},
      {"date": "2026-03-23", "series": "코스피 변화율", "value": 69.5},
      {"date": "2026-03-24", "series": "코스피 변화율", "value": 71.8},
      {"date": "2026-03-25", "series": "코스피 변화율", "value": 76.7},
      {"date": "2026-03-26", "series": "코스피 변화율", "value": 73.1},
      {"date": "2026-03-27", "series": "코스피 변화율", "value": 69.5},
      {"date": "2026-03-29", "series": "코스피 변화율", "value": 66.8},
      {"date": "2026-03-30", "series": "코스피 변화율", "value": 63.7},
      {"date": "2026-03-31", "series": "코스피 변화율", "value": 58.3},
      {"date": "2026-04-01", "series": "코스피 변화율", "value": 71.3},
      {"date": "2026-04-02", "series": "코스피 변화율", "value": 65.9},
      {"date": "2026-04-03", "series": "코스피 변화율", "value": 68.2},
      {"date": "2026-04-05", "series": "코스피 변화율", "value": 70.4},
      {"date": "2026-04-07", "series": "코스피 변화율", "value": 72.2},
      {"date": "2026-04-08", "series": "코스피 변화율", "value": 83.0},
      {"date": "2026-04-09", "series": "코스피 변화율", "value": 81.7},
      {"date": "2026-04-11", "series": "코스피 변화율", "value": 82.8},
      {"date": "2026-04-13", "series": "코스피 변화율", "value": 81.9},
      {"date": "2026-04-14", "series": "코스피 변화율", "value": 87.5},
      {"date": "2026-04-15", "series": "코스피 변화율", "value": 93.3},
      {"date": "2026-04-16", "series": "코스피 변화율", "value": 94.8},
      {"date": "2026-04-18", "series": "코스피 변화율", "value": 94.0},
      {"date": "2026-04-19", "series": "코스피 변화율", "value": 94.7},
      {"date": "2026-04-20", "series": "코스피 변화율", "value": 98.3},
      {"date": "2026-04-22", "series": "코스피 변화율", "value": 101.9},
      {"date": "2026-04-24", "series": "코스피 변화율", "value": 103.8},
      {"date": "2026-04-26", "series": "코스피 변화율", "value": 106.3},
      {"date": "2026-04-28", "series": "코스피 변화율", "value": 109.1},
      {"date": "2026-04-30", "series": "코스피 변화율", "value": 106.8},
      {"date": "2026-05-01", "series": "코스피 변화율", "value": 109.5},
      {"date": "2026-05-03", "series": "코스피 변화율", "value": 116.2},
      {"date": "2026-05-04", "series": "코스피 변화율", "value": 121.6},
      {"date": "2026-05-06", "series": "코스피 변화율", "value": 132.4},
      {"date": "2026-05-08", "series": "코스피 변화율", "value": 134.7},
      {"date": "2026-05-09", "series": "코스피 변화율", "value": 137.8},
      {"date": "2026-05-10", "series": "코스피 변화율", "value": 141.8},
      {"date": "2026-05-11", "series": "코스피 변화율", "value": 143.9},
      {"date": "2026-05-12", "series": "코스피 변화율", "value": 141.8},
      {"date": "2026-05-13", "series": "코스피 변화율", "value": 140.1},
      {"date": "2026-05-14", "series": "코스피 변화율", "value": 149.7},
      {"date": "2026-05-15", "series": "코스피 변화율", "value": 136.9},
      {"date": "2026-05-17", "series": "코스피 변화율", "value": 134.9},
      {"date": "2026-05-19", "series": "코스피 변화율", "value": 127.9},
      {"date": "2026-05-20", "series": "코스피 변화율", "value": 126.1},
      {"date": "2026-05-22", "series": "코스피 변화율", "value": 144.1},
      {"date": "2026-05-23", "series": "코스피 변화율", "value": 147.2},
      {"date": "2026-05-25", "series": "코스피 변화율", "value": 149.5},
      {"date": "2026-05-26", "series": "코스피 변화율", "value": 152.2},
      {"date": "2026-05-27", "series": "코스피 변화율", "value": 157.1},
      {"date": "2026-05-28", "series": "코스피 변화율", "value": 160.3},
      {"date": "2026-05-29", "series": "코스피 변화율", "value": 164.8},
      {"date": "2026-05-30", "series": "코스피 변화율", "value": 169.2},
      {"date": "2026-06-01", "series": "코스피 변화율", "value": 173.3},
      {"date": "2026-06-02", "series": "코스피 변화율", "value": 175.1},
      {"date": "2026-06-03", "series": "코스피 변화율", "value": 172.9},
      {"date": "2026-06-04", "series": "코스피 변화율", "value": 170.6},
      {"date": "2026-06-05", "series": "코스피 변화율", "value": 155.8},
      {"date": "2026-06-06", "series": "코스피 변화율", "value": 149.5},
      {"date": "2026-06-08", "series": "코스피 변화율", "value": 136.9},
      {"date": "2026-06-09", "series": "코스피 변화율", "value": 153.1},
      {"date": "2026-06-11", "series": "코스피 변화율", "value": 136.9},
      {"date": "2026-06-13", "series": "코스피 변화율", "value": 156.7},
      {"date": "2026-06-15", "series": "코스피 변화율", "value": 170.1},
      {"date": "2026-06-17", "series": "코스피 변화율", "value": 180.0},
      {"date": "2026-06-20", "series": "코스피 변화율", "value": 184.1},
      {"date": "2026-06-21", "series": "코스피 변화율", "value": 184.5},
      {"date": "2026-06-22", "series": "코스피 변화율", "value": 181.4},
      {"date": "2026-06-23", "series": "코스피 변화율", "value": 156.7},
      {"date": "2026-06-25", "series": "코스피 변화율", "value": 178.2},
      {"date": "2026-06-26", "series": "코스피 변화율", "value": 163.9},
      {"date": "2026-06-28", "series": "코스피 변화율", "value": 162.8},
      {"date": "2026-06-30", "series": "코스피 변화율", "value": 164.8},
      {"date": "2026-07-02", "series": "코스피 변화율", "value": 139.6},
      {"date": "2026-07-03", "series": "코스피 변화율", "value": 152.2},
      {"date": "2026-07-06", "series": "코스피 변화율", "value": 152.0},
      {"date": "2026-07-08", "series": "코스피 변화율", "value": 127.0},
      {"date": "2026-07-09", "series": "코스피 변화율", "value": 133.3},
      {"date": "2026-07-11", "series": "코스피 변화율", "value": 129.7},
      {"date": "2026-07-13", "series": "코스피 변화율", "value": 114.4},
      {"date": "2026-07-15", "series": "코스피 변화율", "value": 127.2},
      {"date": "2026-07-17", "series": "코스피 변화율", "value": 112.6},
      {"date": "2026-07-20", "series": "코스피 변화율", "value": 104.1},
      {"date": "2026-07-23", "series": "코스피 변화율", "value": 121.2},
      {"date": "2026-07-24", "series": "코스피 변화율", "value": 112.6},
      {"date": "2026-07-27", "series": "코스피 변화율", "value": 111.3},
      {"date": "2026-07-28", "series": "코스피 변화율", "value": 101.9},
      {"date": "2026-07-30", "series": "코스피 변화율", "value": 75.6},
      {"date": "2026-07-31", "series": "코스피 변화율", "value": 105.5},
      {"date": "2026-08-01", "series": "코스피 변화율", "value": 101.9},
      {"date": "2026-08-03", "series": "코스피 변화율", "value": 96.5},
      {"date": "2026-08-04", "series": "코스피 변화율", "value": 101.0},
      {"date": "2026-08-05", "series": "코스피 변화율", "value": 106.4},

      {"date": "2025-08-05", "series": "코스닥 변화율", "value": 0},
      {"date": "2025-08-09", "series": "코스닥 변화율", "value": 2.0},
      {"date": "2025-08-12", "series": "코스닥 변화율", "value": 1.7},
      {"date": "2025-08-13", "series": "코스닥 변화율", "value": 2.6},
      {"date": "2025-08-16", "series": "코스닥 변화율", "value": 1.1},
      {"date": "2025-08-21", "series": "코스닥 변화율", "value": -2.2},
      {"date": "2025-08-22", "series": "코스닥 변화율", "value": -1.0},
      {"date": "2025-08-25", "series": "코스닥 변화율", "value": 0.5},
      {"date": "2025-08-27", "series": "코스닥 변화율", "value": 0.8},
      {"date": "2025-08-29", "series": "코스닥 변화율", "value": 0.4},
      {"date": "2025-09-01", "series": "코스닥 변화율", "value": -1.3},
      {"date": "2025-09-04", "series": "코스닥 변화율", "value": 1.3},
      {"date": "2025-09-07", "series": "코스닥 변화율", "value": 2.6},
      {"date": "2025-09-10", "series": "코스닥 변화율", "value": 4.4},
      {"date": "2025-09-12", "series": "코스닥 변화율", "value": 6.8},
      {"date": "2025-09-16", "series": "코스닥 변화율", "value": 7.7},
      {"date": "2025-09-17", "series": "코스닥 변화율", "value": 6.5},
      {"date": "2025-09-19", "series": "코스닥 변화율", "value": 8.4},
      {"date": "2025-09-22", "series": "코스닥 변화율", "value": 9.7},
      {"date": "2025-09-23", "series": "코스닥 변화율", "value": 9.3},
      {"date": "2025-09-26", "series": "코스닥 변화율", "value": 5.0},
      {"date": "2025-09-28", "series": "코스닥 변화율", "value": 6.2},
      {"date": "2025-10-01", "series": "코스닥 변화율", "value": 6.6},
      {"date": "2025-10-02", "series": "코스닥 변화율", "value": 7.5},
      {"date": "2025-10-10", "series": "코스닥 변화율", "value": 8.2},
      {"date": "2025-10-13", "series": "코스닥 변화율", "value": 8.4},
      {"date": "2025-10-14", "series": "코스닥 변화율", "value": 6.6},
      {"date": "2025-10-15", "series": "코스닥 변화율", "value": 8.4},
      {"date": "2025-10-18", "series": "코스닥 변화율", "value": 8.9},
      {"date": "2025-10-21", "series": "코스닥 변화율", "value": 9.8},
      {"date": "2025-10-24", "series": "코스닥 변화율", "value": 10.4},
      {"date": "2025-10-25", "series": "코스닥 변화율", "value": 11.9},
      {"date": "2025-10-28", "series": "코스닥 변화율", "value": 13.7},
      {"date": "2025-10-30", "series": "코스닥 변화율", "value": 12.5},
      {"date": "2025-11-01", "series": "코스닥 변화율", "value": 13.8},
      {"date": "2025-11-04", "series": "코스닥 변화율", "value": 16.1},
      {"date": "2025-11-06", "series": "코스닥 변화율", "value": 12.5},
      {"date": "2025-11-07", "series": "코스닥 변화율", "value": 10.7},
      {"date": "2025-11-08", "series": "코스닥 변화율", "value": 11.6},
      {"date": "2025-11-10", "series": "코스닥 변화율", "value": 11.6},
      {"date": "2025-11-13", "series": "코스닥 변화율", "value": 15.2},
      {"date": "2025-11-14", "series": "코스닥 변화율", "value": 13.7},
      {"date": "2025-11-17", "series": "코스닥 변화율", "value": 13.4},
      {"date": "2025-11-19", "series": "코스닥 변화율", "value": 10.4},
      {"date": "2025-11-20", "series": "코스닥 변화율", "value": 11.9},
      {"date": "2025-11-21", "series": "코스닥 변화율", "value": 8.6},
      {"date": "2025-11-25", "series": "코스닥 변화율", "value": 7.7},
      {"date": "2025-11-27", "series": "코스닥 변화율", "value": 11.9},
      {"date": "2025-11-29", "series": "코스닥 변화율", "value": 15.2},
      {"date": "2025-12-02", "series": "코스닥 변화율", "value": 16.5},
      {"date": "2025-12-05", "series": "코스닥 변화율", "value": 17.4},
      {"date": "2025-12-07", "series": "코스닥 변화율", "value": 16.7},
      {"date": "2025-12-09", "series": "코스닥 변화율", "value": 17.2},
      {"date": "2025-12-11", "series": "코스닥 변화율", "value": 17.9},
      {"date": "2025-12-14", "series": "코스닥 변화율", "value": 17.9},
      {"date": "2025-12-15", "series": "코스닥 변화율", "value": 16.5},
      {"date": "2025-12-17", "series": "코스닥 변화율", "value": 14.7},
      {"date": "2025-12-18", "series": "코스닥 변화율", "value": 13.7},
      {"date": "2025-12-19", "series": "코스닥 변화율", "value": 15.2},
      {"date": "2025-12-21", "series": "코스닥 변화율", "value": 16.1},
      {"date": "2025-12-22", "series": "코스닥 변화율", "value": 16.5},
      {"date": "2025-12-24", "series": "코스닥 변화율", "value": 15.4},
      {"date": "2025-12-25", "series": "코스닥 변화율", "value": 15.4},
      {"date": "2025-12-27", "series": "코스닥 변화율", "value": 16.1},
      {"date": "2025-12-29", "series": "코스닥 변화율", "value": 17.0},
      {"date": "2025-12-30", "series": "코스닥 변화율", "value": 16.7},
      {"date": "2025-12-31", "series": "코스닥 변화율", "value": 17.6},
      {"date": "2026-01-02", "series": "코스닥 변화율", "value": 18.8},
      {"date": "2026-01-03", "series": "코스닥 변화율", "value": 19.7},
      {"date": "2026-01-05", "series": "코스닥 변화율", "value": 20.3},
      {"date": "2026-01-06", "series": "코스닥 변화율", "value": 19.7},
      {"date": "2026-01-08", "series": "코스닥 변화율", "value": 18.8},
      {"date": "2026-01-10", "series": "코스닥 변화율", "value": 19.2},
      {"date": "2026-01-13", "series": "코스닥 변화율", "value": 19.2},
      {"date": "2026-01-14", "series": "코스닥 변화율", "value": 19.0},
      {"date": "2026-01-16", "series": "코스닥 변화율", "value": 19.9},
      {"date": "2026-01-17", "series": "코스닥 변화율", "value": 20.8},
      {"date": "2026-01-19", "series": "코스닥 변화율", "value": 21.7},
      {"date": "2026-01-20", "series": "코스닥 변화율", "value": 22.1},
      {"date": "2026-01-21", "series": "코스닥 변화율", "value": 20.6},
      {"date": "2026-01-22", "series": "코스닥 변화율", "value": 22.4},
      {"date": "2026-01-23", "series": "코스닥 변화율", "value": 24.2},
      {"date": "2026-01-24", "series": "코스닥 변화율", "value": 27.3},
      {"date": "2026-01-25", "series": "코스닥 변화율", "value": 30.9},
      {"date": "2026-01-26", "series": "코스닥 변화율", "value": 33.6},
      {"date": "2026-01-27", "series": "코스닥 변화율", "value": 36.3},
      {"date": "2026-01-28", "series": "코스닥 변화율", "value": 44.4},
      {"date": "2026-01-29", "series": "코스닥 변화율", "value": 46.2},
      {"date": "2026-01-30", "series": "코스닥 변화율", "value": 44.2},
      {"date": "2026-01-31", "series": "코스닥 변화율", "value": 42.6},
      {"date": "2026-02-01", "series": "코스닥 변화율", "value": 40.8},
      {"date": "2026-02-02", "series": "코스닥 변화율", "value": 38.8},
      {"date": "2026-02-03", "series": "코스닥 변화율", "value": 41.7},
      {"date": "2026-02-04", "series": "코스닥 변화율", "value": 44.2},
      {"date": "2026-02-05", "series": "코스닥 변화율", "value": 41.2},
      {"date": "2026-02-06", "series": "코스닥 변화율", "value": 37.6},
      {"date": "2026-02-07", "series": "코스닥 변화율", "value": 36.1},
      {"date": "2026-02-08", "series": "코스닥 변화율", "value": 38.1},
      {"date": "2026-02-09", "series": "코스닥 변화율", "value": 41.2},
      {"date": "2026-02-10", "series": "코스닥 변화율", "value": 40.1},
      {"date": "2026-02-12", "series": "코스닥 변화율", "value": 40.8},
      {"date": "2026-02-13", "series": "코스닥 변화율", "value": 39.0},
      {"date": "2026-02-14", "series": "코스닥 변화율", "value": 40.3},
      {"date": "2026-02-15", "series": "코스닥 변화율", "value": 41.9},
      {"date": "2026-02-17", "series": "코스닥 변화율", "value": 43.5},
      {"date": "2026-02-18", "series": "코스닥 변화율", "value": 44.8},
      {"date": "2026-02-19", "series": "코스닥 변화율", "value": 45.7},
      {"date": "2026-02-21", "series": "코스닥 변화율", "value": 44.8},
      {"date": "2026-02-23", "series": "코스닥 변화율", "value": 44.6},
      {"date": "2026-02-24", "series": "코스닥 변화율", "value": 46.0},
      {"date": "2026-02-26", "series": "코스닥 변화율", "value": 48.0},
      {"date": "2026-02-27", "series": "코스닥 변화율", "value": 49.6},
      {"date": "2026-02-28", "series": "코스닥 변화율", "value": 48.0},
      {"date": "2026-03-01", "series": "코스닥 변화율", "value": 46.2},
      {"date": "2026-03-02", "series": "코스닥 변화율", "value": 43.5},
      {"date": "2026-03-03", "series": "코스닥 변화율", "value": 39.9},
      {"date": "2026-03-04", "series": "코스닥 변화율", "value": 23.7},
      {"date": "2026-03-05", "series": "코스닥 변화율", "value": 41.7},
      {"date": "2026-03-06", "series": "코스닥 변화율", "value": 44.2},
      {"date": "2026-03-07", "series": "코스닥 변화율", "value": 42.1},
      {"date": "2026-03-09", "series": "코스닥 변화율", "value": 39.2},
      {"date": "2026-03-10", "series": "코스닥 변화율", "value": 41.9},
      {"date": "2026-03-11", "series": "코스닥 변화율", "value": 43.7},
      {"date": "2026-03-13", "series": "코스닥 변화율", "value": 44.6},
      {"date": "2026-03-15", "series": "코스닥 변화율", "value": 43.7},
      {"date": "2026-03-16", "series": "코스닥 변화율", "value": 42.8},
      {"date": "2026-03-18", "series": "코스닥 변화율", "value": 45.5},
      {"date": "2026-03-19", "series": "코스닥 변화율", "value": 44.4},
      {"date": "2026-03-20", "series": "코스닥 변화율", "value": 45.7},
      {"date": "2026-03-21", "series": "코스닥 변화율", "value": 43.0},
      {"date": "2026-03-23", "series": "코스닥 변화율", "value": 38.8},
      {"date": "2026-03-25", "series": "코스닥 변화율", "value": 43.0},
      {"date": "2026-03-26", "series": "코스닥 변화율", "value": 45.3},
      {"date": "2026-03-27", "series": "코스닥 변화율", "value": 43.5},
      {"date": "2026-03-28", "series": "코스닥 변화율", "value": 41.7},
      {"date": "2026-03-30", "series": "코스닥 변화율", "value": 39.4},
      {"date": "2026-03-31", "series": "코스닥 변화율", "value": 32.7},
      {"date": "2026-04-01", "series": "코스닥 변화율", "value": 39.4},
      {"date": "2026-04-02", "series": "코스닥 변화율", "value": 34.0},
      {"date": "2026-04-03", "series": "코스닥 변화율", "value": 33.4},
      {"date": "2026-04-05", "series": "코스닥 변화율", "value": 32.2},
      {"date": "2026-04-07", "series": "코스닥 변화율", "value": 30.9},
      {"date": "2026-04-08", "series": "코스닥 변화율", "value": 36.3},
      {"date": "2026-04-12", "series": "코스닥 변화율", "value": 38.1},
      {"date": "2026-04-15", "series": "코스닥 변화율", "value": 44.8},
      {"date": "2026-04-18", "series": "코스닥 변화율", "value": 47.1},
      {"date": "2026-04-21", "series": "코스닥 변화율", "value": 48.1},
      {"date": "2026-04-23", "series": "코스닥 변화율", "value": 47.5},
      {"date": "2026-04-25", "series": "코스닥 변화율", "value": 52.3},
      {"date": "2026-04-27", "series": "코스닥 변화율", "value": 53.5},
      {"date": "2026-04-29", "series": "코스닥 변화율", "value": 52.6},
      {"date": "2026-04-30", "series": "코스닥 변화율", "value": 50.2},
      {"date": "2026-05-04", "series": "코스닥 변화율", "value": 52.0},
      {"date": "2026-05-06", "series": "코스닥 변화율", "value": 51.4},
      {"date": "2026-05-11", "series": "코스닥 변화율", "value": 51.4},
      {"date": "2026-05-12", "series": "코스닥 변화율", "value": 48.4},
      {"date": "2026-05-14", "series": "코스닥 변화율", "value": 48.7},
      {"date": "2026-05-15", "series": "코스닥 변화율", "value": 42.6},
      {"date": "2026-05-17", "series": "코스닥 변화율", "value": 39.9},
      {"date": "2026-05-19", "series": "코스닥 변화율", "value": 36.7},
      {"date": "2026-05-20", "series": "코스닥 변화율", "value": 32.7},
      {"date": "2026-05-22", "series": "코스닥 변화율", "value": 43.5},
      {"date": "2026-05-24", "series": "코스닥 변화율", "value": 46.3},
      {"date": "2026-05-26", "series": "코스닥 변화율", "value": 47.1},
      {"date": "2026-05-27", "series": "코스닥 변화율", "value": 41.7},
      {"date": "2026-05-29", "series": "코스닥 변화율", "value": 36.3},
      {"date": "2026-05-30", "series": "코스닥 변화율", "value": 33.4},
      {"date": "2026-06-01", "series": "코스닥 변화율", "value": 31.8},
      {"date": "2026-06-02", "series": "코스닥 변화율", "value": 29.3},
      {"date": "2026-06-04", "series": "코스닥 변화율", "value": 31.3},
      {"date": "2026-06-06", "series": "코스닥 변화율", "value": 23.7},
      {"date": "2026-06-08", "series": "코스닥 변화율", "value": 14.7},
      {"date": "2026-06-09", "series": "코스닥 변화율", "value": 20.8},
      {"date": "2026-06-10", "series": "코스닥 변화율", "value": 20.8},
      {"date": "2026-06-12", "series": "코스닥 변화율", "value": 27.7},
      {"date": "2026-06-13", "series": "코스닥 변화율", "value": 29.5},
      {"date": "2026-06-15", "series": "코스닥 변화율", "value": 29.5},
      {"date": "2026-06-17", "series": "코스닥 변화율", "value": 28.6},
      {"date": "2026-06-19", "series": "코스닥 변화율", "value": 21.9},
      {"date": "2026-06-21", "series": "코스닥 변화율", "value": 21.5},
      {"date": "2026-06-23", "series": "코스닥 변화율", "value": 14.7},
      {"date": "2026-06-25", "series": "코스닥 변화율", "value": 12.0},
      {"date": "2026-06-26", "series": "코스닥 변화율", "value": 8.0},
      {"date": "2026-06-29", "series": "코스닥 변화율", "value": 14.3},
      {"date": "2026-06-30", "series": "코스닥 변화율", "value": 15.2},
      {"date": "2026-07-01", "series": "코스닥 변화율", "value": 16.7},
      {"date": "2026-07-03", "series": "코스닥 변화율", "value": 8.9},
      {"date": "2026-07-04", "series": "코스닥 변화율", "value": 8.0},
      {"date": "2026-07-06", "series": "코스닥 변화율", "value": 5.7},
      {"date": "2026-07-08", "series": "코스닥 변화율", "value": 0.8},
      {"date": "2026-07-09", "series": "코스닥 변화율", "value": 1.2},
      {"date": "2026-07-11", "series": "코스닥 변화율", "value": 4.4},
      {"date": "2026-07-13", "series": "코스닥 변화율", "value": 0.3},
      {"date": "2026-07-15", "series": "코스닥 변화율", "value": 3.5},
      {"date": "2026-07-16", "series": "코스닥 변화율", "value": 0.3},
      {"date": "2026-07-18", "series": "코스닥 변화율", "value": -3.7},
      {"date": "2026-07-21", "series": "코스닥 변화율", "value": -5.5},
      {"date": "2026-07-23", "series": "코스닥 변화율", "value": -1.4},
      {"date": "2026-07-24", "series": "코스닥 변화율", "value": -3.2},
      {"date": "2026-07-25", "series": "코스닥 변화율", "value": -5.0},
      {"date": "2026-07-27", "series": "코스닥 변화율", "value": -3.7},
      {"date": "2026-07-28", "series": "코스닥 변화율", "value": -6.8},
      {"date": "2026-07-30", "series": "코스닥 변화율", "value": -19.0},
      {"date": "2026-07-31", "series": "코스닥 변화율", "value": -11.3},
      {"date": "2026-08-01", "series": "코스닥 변화율", "value": -9.1},
      {"date": "2026-08-02", "series": "코스닥 변화율", "value": -8.2},
      {"date": "2026-08-03", "series": "코스닥 변화율", "value": -6.8},
      {"date": "2026-08-04", "series": "코스닥 변화율", "value": -3.2},
      {"date": "2026-08-05", "series": "코스닥 변화율", "value": 0.5}
    ]
  },
  "layer": [
    {
      "transform": [{"filter": "datum.series === '유가증권/예탁금' || datum.series === '코스닥/예탁금'"}],
      "layer": [
        {
          "transform": [{"aggregate": [{"op": "max", "field": "value", "as": "peak"}], "groupby": ["series"]}],
          "mark": {"type": "rule", "strokeWidth": 2, "strokeDash": [7.5, 4.5], "opacity": 0.28},
          "encoding": {
            "y": {"field": "peak", "type": "quantitative", "title": "%", "scale": {"domain": [4.16, 28.01], "nice": false, "zero": false}, "axis": {"orient": "left", "values": [5, 10, 15, 20, 25], "grid": true, "gridColor": "#1e2631", "gridWidth": 1.2, "title": "%", "titlePadding": 10, "labelPadding": 9}},
            "color": {"field": "series", "type": "nominal"}
          }
        },
        {
          "transform": [{"aggregate": [{"op": "argmax", "field": "date", "as": "last"}], "groupby": ["series"]}],
          "mark": {"type": "rule", "strokeWidth": 2, "strokeDash": [2.2, 4.5], "opacity": 0.3},
          "encoding": {
            "y": {"field": "last.value", "type": "quantitative", "title": "%", "scale": {"domain": [4.16, 28.01], "nice": false, "zero": false}, "axis": {"orient": "left", "values": [5, 10, 15, 20, 25], "grid": true, "gridColor": "#1e2631", "gridWidth": 1.2, "title": "%", "titlePadding": 10, "labelPadding": 9}},
            "color": {"field": "series", "type": "nominal"}
          }
        },
        {
          "mark": {"type": "line", "strokeWidth": 5, "point": {"filled": true, "size": 50}},
          "encoding": {
            "x": {"field": "date", "type": "temporal", "title": null, "scale": {"domain": [{"year": 2025, "month": 7, "date": 18}, {"year": 2026, "month": 8, "date": 23}]}, "axis": {"format": "%Y-%m", "values": [{"year": 2025, "month": 9, "date": 1}, {"year": 2025, "month": 11, "date": 1}, {"year": 2026, "month": 1, "date": 1}, {"year": 2026, "month": 3, "date": 1}, {"year": 2026, "month": 5, "date": 1}, {"year": 2026, "month": 7, "date": 1}], "labelPadding": 8}},
            "y": {"field": "value", "type": "quantitative", "title": "%", "scale": {"domain": [4.16, 28.01], "nice": false, "zero": false}, "axis": {"orient": "left", "values": [5, 10, 15, 20, 25], "grid": true, "gridColor": "#1e2631", "gridWidth": 1.2, "title": "%", "titlePadding": 10, "labelPadding": 9}},
            "color": {
              "field": "series",
              "type": "nominal",
              "scale": {"domain": ["유가증권/예탁금", "코스닥/예탁금", "코스피 변화율", "코스닥 변화율"], "range": ["#f5a623", "#4da3ff", "#f06a6a", "#34d399"]},
              "legend": {
                "title": null,
                "orient": "top-left",
                "offset": 18,
                "padding": 2,
                "symbolType": "stroke",
                "symbolSize": 7000,
                "symbolStrokeWidth": 5,
                "symbolOpacity": 1,
                "labelFontSize": 25,
                "labelColor": "#dfe5ec",
                "labelLimit": 400,
                "labelOffset": 46,
                "rowPadding": 8,
                "clipHeight": 29,
                "encode": {
                  "symbols": {
                    "update": {
                      "strokeWidth": {"signal": "indexof(['코스피 변화율', '코스닥 변화율'], datum.value) >= 0 ? 2.5 : 5"},
                      "strokeDash": {"signal": "indexof(['코스피 변화율', '코스닥 변화율'], datum.value) >= 0 ? [2.5, 4.2] : [1, 0]"},
                      "opacity": {"value": 1}
                    }
                  }
                }
              }
            }
          }
        }
      ]
    },
    {
      "transform": [{"filter": "datum.series === '코스피 변화율' || datum.series === '코스닥 변화율'"}],
      "layer": [
        {
          "transform": [{"aggregate": [{"op": "max", "field": "value", "as": "peak"}], "groupby": ["series"]}],
          "mark": {"type": "rule", "strokeWidth": 2, "strokeDash": [7.5, 4.5], "opacity": 0.28},
          "encoding": {
            "y": {"field": "peak", "type": "quantitative", "title": "시작 대비 변화율 (%)", "scale": {"domain": [-29.5, 195.2], "nice": false, "zero": false}, "axis": {"orient": "right", "values": [-25, 0, 25, 50, 75, 100, 125, 150, 175], "grid": false, "title": "시작 대비 변화율 (%)", "titleAngle": 270, "titlePadding": 38, "labelPadding": 9}},
            "color": {"field": "series", "type": "nominal"}
          }
        },
        {
          "transform": [{"aggregate": [{"op": "argmax", "field": "date", "as": "last"}], "groupby": ["series"]}],
          "mark": {"type": "rule", "strokeWidth": 2, "strokeDash": [2.2, 4.5], "opacity": 0.3},
          "encoding": {
            "y": {"field": "last.value", "type": "quantitative", "title": "시작 대비 변화율 (%)", "scale": {"domain": [-29.5, 195.2], "nice": false, "zero": false}, "axis": {"orient": "right", "values": [-25, 0, 25, 50, 75, 100, 125, 150, 175], "grid": false, "title": "시작 대비 변화율 (%)", "titleAngle": 270, "titlePadding": 38, "labelPadding": 9}},
            "color": {"field": "series", "type": "nominal"}
          }
        },
        {
          "mark": {"type": "line", "strokeWidth": 2.5, "strokeDash": [2.5, 4.2]},
          "encoding": {
            "x": {"field": "date", "type": "temporal", "title": null, "scale": {"domain": [{"year": 2025, "month": 7, "date": 18}, {"year": 2026, "month": 8, "date": 23}]}, "axis": {"format": "%Y-%m", "values": [{"year": 2025, "month": 9, "date": 1}, {"year": 2025, "month": 11, "date": 1}, {"year": 2026, "month": 1, "date": 1}, {"year": 2026, "month": 3, "date": 1}, {"year": 2026, "month": 5, "date": 1}, {"year": 2026, "month": 7, "date": 1}], "labelPadding": 8}},
            "y": {"field": "value", "type": "quantitative", "title": "시작 대비 변화율 (%)", "scale": {"domain": [-29.5, 195.2], "nice": false, "zero": false}, "axis": {"orient": "right", "values": [-25, 0, 25, 50, 75, 100, 125, 150, 175], "grid": false, "title": "시작 대비 변화율 (%)", "titleAngle": 270, "titlePadding": 38, "labelPadding": 9}},
            "color": {"field": "series", "type": "nominal"}
          }
        }
      ]
    }
  ],
  "resolve": {"scale": {"y": "independent"}}
}
